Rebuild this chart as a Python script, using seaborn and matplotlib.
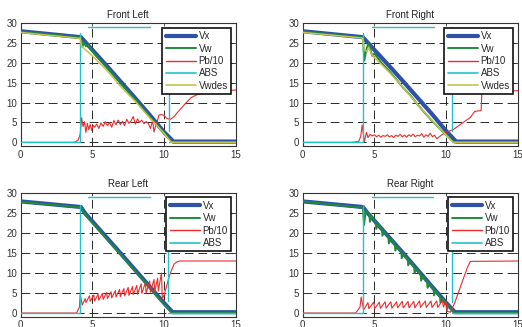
import numpy as np
import pandas as pd
import matplotlib
matplotlib.use("Agg")
import matplotlib.pyplot as plt
import seaborn as sns
from matplotlib.lines import Line2D

nan = np.nan

titles = ["Front Left", "Front Right", "Rear Left", "Rear Right"]
x_ticks = [0, 5, 10, 15]
y_ticks = [0, 5, 10, 15, 20, 25, 30]

# ---------------- Front Left ----------------
fl_vx_t = [0, 4.2, 5, 6, 7, 8, 9, 10, 10.65, 15]
fl_vx_v = [28, 26.5, 23.3, 19.3, 15.2, 11.1, 6.9, 2.6, 0.2, 0.2]
fl_vw_t = [0, 4.2, 4.3, 4.4, 4.55, 4.7, 5, 6, 7, 8, 9, 10, 10.6, 15]
fl_vw_v = [27.9, 26.4, 24.0, 25.2, 24.2, 24.6, 22.9, 18.9, 14.8, 10.7, 6.5, 2.3, 0, 0]
fl_pb_t = [0, 3.7, 4.0, 4.15, 4.25, 4.35, 4.45, 4.55, 4.65, 4.75, 4.85, 4.95, 5.05, 5.15,
           5.3, 5.45, 5.6, 5.75, 5.9, 6.05, 6.2, 6.35, 6.5, 6.65, 6.8, 6.95, 7.1, 7.25, 7.4,
           7.55, 7.7, 7.85, 8.0, 8.15, 8.3, 8.45, 8.6, 8.75, 8.9, 9.05, 9.2, 9.3, 9.4, 9.5,
           9.65, 9.8, 10.0, 10.2, 10.45, 10.7, 11.0, 11.3, 11.6, 11.9, 12.3, 12.8, 13.5, 14.2, 15]
fl_pb_v = [0, 0, 0.5, 2, 6.2, 4.0, 5.2, 2.5, 4.8, 3.2, 4.5, 3.0, 4.3, 3.8,
           4.6, 3.5, 4.9, 4.0, 5.2, 4.2, 5.0, 3.8, 5.5, 4.4, 5.6, 4.5, 5.3, 4.2, 5.8,
           4.8, 5.4, 6.5, 4.6, 5.9, 5.0, 5.6, 4.7, 5.2, 4.8, 3.5, 5.5, 2.6, 4.0, 5.0,
           6.9, 7.0, 6.8, 6.0, 5.8, 6.5, 7.8, 9.0, 10.2, 11.3, 12.0, 12.3, 12.5, 13.0, 13.2]
fl_abs_t = [0, 4.15, 4.15, nan, 4.7, 9.0, nan, 10.35, 10.35, nan, 10.35, 15]
fl_abs_v = [0, 0, 27.5, nan, 29, 29, nan, 29, 2.8, nan, 0, 0]
fl_des_t = [0, 4.15, 4.25, 5, 6, 7, 8, 9, 10, 10.5, 15]
fl_des_v = [27.7, 26.2, 24.2, 21.8, 18.2, 14.0, 10.3, 6.2, 2.3, 0, 0]

# ---------------- Front Right ----------------
fr_vx_t = [0, 4.2, 5, 6, 7, 8, 9, 10, 10.7, 15]
fr_vx_v = [28, 26.5, 23.3, 19.4, 15.4, 11.3, 7.2, 2.9, 0.2, 0.2]
fr_vw_t = [0, 4.2, 4.3, 4.45, 4.6, 4.75, 4.85, 5.0, 5.5, 6, 6.5, 7, 7.5, 8, 8.5, 9, 9.5, 10, 10.55, 15]
fr_vw_v = [27.9, 26.4, 20.6, 23.5, 25.0, 23.0, 21.8, 22.4, 20.0, 18.1, 16.0, 13.8, 11.9, 9.6, 7.5, 5.5, 3.7, 1.9, 0, 0]
fr_pb_t = [0, 3.4, 3.9, 4.05, 4.15, 4.3, 4.45, 4.55, 4.7, 4.85, 5.0, 5.15, 5.3, 5.45, 5.6, 5.75,
           5.9, 6.05, 6.2, 6.35, 6.5, 6.65, 6.8, 6.95, 7.1, 7.25, 7.4, 7.55, 7.7, 7.85, 8.0, 8.15,
           8.3, 8.45, 8.6, 8.75, 8.9, 9.05, 9.2, 9.35, 9.5, 9.7, 10.0, 10.5, 11.0, 11.7, 12.0,
           12.45, 12.5, 15]
fr_pb_v = [0, 0, 0.2, 1.5, 4.4, 0.2, 2.5, 1.2, 2.0, 1.6, 1.9, 1.4, 1.8, 1.3, 1.7, 1.5,
           1.9, 1.4, 1.7, 1.2, 1.8, 1.5, 2.0, 1.4, 1.8, 1.3, 1.9, 1.5, 2.1, 1.4, 1.8, 1.6,
           2.2, 1.3, 1.9, 1.5, 2.3, 1.4, 1.8, 0.9, 1.3, 1.9, 2.5, 3.2, 4.5, 6.3, 7.8,
           8.0, 12.9, 13.0]
fr_abs_t = [0, 4.2, 4.2, nan, 4.82, 9.15, nan, 10.4, 10.4, nan, 10.4, 15]
fr_abs_v = [0, 0, 27.5, nan, 29, 29, nan, 29, 2.8, nan, 0, 0]
fr_des_t = [0, 4.15, 4.3, 4.5, 4.6, 4.8, 5, 6, 7, 8, 9, 10, 10.5, 15]
fr_des_v = [27.7, 26.3, 23.5, 22.8, 24.0, 22.2, 21.4, 17.8, 13.9, 9.6, 5.6, 1.9, 0, 0]

# ---------------- Rear Left ----------------
rl_vx_t = [0, 4.2, 4.5, 5, 7, 9, 10, 10.6, 15]
rl_vx_v = [27.9, 26.5, 24.9, 22.9, 14.8, 6.6, 2.5, 0.2, 0.2]
rl_vw_t = [0, 4.2, 4.5, 5, 7, 9, 10, 10.55, 15]
rl_vw_v = [27.8, 26.4, 24.6, 22.6, 14.5, 6.3, 2.2, 0, 0]
rl_pb_t = [0, 3.9, 4.1, 4.15, 4.3, 4.5, 4.55, 4.8, 4.85, 5.1, 5.15, 5.4, 5.45, 5.7, 5.75,
           6.0, 6.05, 6.3, 6.35, 6.6, 6.65, 6.9, 6.95, 7.2, 7.25, 7.5, 7.55, 7.8, 7.85,
           8.1, 8.15, 8.4, 8.45, 8.7, 8.75, 9.0, 9.05, 9.3, 9.35, 9.55, 9.6, 9.82, 9.88,
           10.05, 10.2, 10.35, 10.5, 10.7, 10.9, 11.1, 15]
rl_pb_v = [0, 0, 1.5, 4.6, 2.0, 3.6, 2.6, 4.3, 2.9, 4.5, 3.0, 4.7, 3.2, 4.9, 3.4,
           5.1, 3.6, 5.3, 3.8, 5.6, 4.0, 5.9, 4.1, 6.1, 4.3, 6.4, 4.4, 6.6, 4.6,
           6.9, 4.7, 7.3, 4.9, 7.6, 5.0, 8.0, 5.2, 8.4, 5.3, 8.7, 5.5, 10.0, 3.5,
           5.0, 7.0, 9.0, 10.5, 12.2, 12.8, 13.0, 13.0]
rl_abs_t = [0, 4.15, 4.15, nan, 4.7, 9.0, nan, 10.3, 10.3, nan, 10.3, 15]
rl_abs_v = [0, 0, 27, nan, 29, 29, nan, 29, 2.9, nan, 0, 0]

# ---------------- Rear Right ----------------
rr_vx_t = [0, 4.2, 4.5, 5, 7, 9, 10, 10.62, 15]
rr_vx_v = [27.9, 26.5, 25.1, 23.1, 15.0, 6.7, 2.6, 0.2, 0.2]
rr_vw_t = [0, 4.2, 4.28, 4.4, 4.66, 4.69, 4.8, 5.1, 5.13, 5.25, 5.53, 5.56, 5.68, 5.98, 6.01,
           6.13, 6.43, 6.46, 6.58, 6.88, 6.91, 7.03, 7.33, 7.36, 7.48, 7.78, 7.81, 7.93, 8.23,
           8.26, 8.38, 8.68, 8.71, 8.83, 9.13, 9.16, 9.28, 9.58, 9.61, 9.73, 10.03, 10.06,
           10.18, 10.6, 15]
rr_vw_v = [27.9, 26.3, 22.0, 25.6, 24.5, 22.8, 24.2, 22.7, 21.0, 22.2, 20.9, 19.3, 20.4, 19.0, 17.4,
           18.5, 17.2, 15.6, 16.7, 15.3, 13.7, 14.8, 13.5, 11.9, 13.0, 11.6, 10.0, 11.1, 9.7,
           8.1, 9.2, 7.9, 6.3, 7.4, 6.0, 4.4, 5.5, 4.1, 2.6, 3.6, 2.3, 1.0,
           1.8, 0.0, 0.0]
rr_pb_t = [0, 3.7, 4.0, 4.08, 4.25, 4.55, 4.62, 4.95, 5.02, 5.35, 5.42, 5.75, 5.82, 6.15, 6.22,
           6.55, 6.62, 6.95, 7.02, 7.35, 7.42, 7.75, 7.82, 8.15, 8.22, 8.55, 8.62, 8.95, 9.02,
           9.35, 9.42, 9.75, 9.82, 10.0, 10.08, 10.3, 10.6, 10.9, 11.2, 11.5, 11.7, 15]
rr_pb_v = [0, 0, 1.5, 4.0, 0.8, 2.6, 1.1, 2.7, 1.1, 2.7, 1.2, 2.8, 1.2, 2.8, 1.2,
           2.8, 1.3, 2.9, 1.3, 2.9, 1.3, 2.9, 1.3, 3.0, 1.4, 3.0, 1.4, 3.0, 1.4,
           3.0, 1.4, 3.1, 1.5, 3.0, 0.4, 0.2, 2.5, 5.5, 8.5, 11.5, 12.9, 13.0]
rr_abs_t = [0, 4.2, 4.2, nan, 4.8, 9.1, nan, 10.4, 10.4, nan, 10.4, 15]
rr_abs_v = [0, 0, 27, nan, 29, 29, nan, 29, 2.8, nan, 0, 0]

panels = [
    dict(vx=(fl_vx_t, fl_vx_v), vw=(fl_vw_t, fl_vw_v), pb=(fl_pb_t, fl_pb_v),
         abs_=(fl_abs_t, fl_abs_v), des=(fl_des_t, fl_des_v)),
    dict(vx=(fr_vx_t, fr_vx_v), vw=(fr_vw_t, fr_vw_v), pb=(fr_pb_t, fr_pb_v),
         abs_=(fr_abs_t, fr_abs_v), des=(fr_des_t, fr_des_v)),
    dict(vx=(rl_vx_t, rl_vx_v), vw=(rl_vw_t, rl_vw_v), pb=(rl_pb_t, rl_pb_v),
         abs_=(rl_abs_t, rl_abs_v), des=None),
    dict(vx=(rr_vx_t, rr_vx_v), vw=(rr_vw_t, rr_vw_v), pb=(rr_pb_t, rr_pb_v),
         abs_=(rr_abs_t, rr_abs_v), des=None),
]

C_VX = "#2f52a8"
C_VW = "#1e8a3c"
C_PB = "#ee2a2a"
C_ABS = "#20c4c8"
C_DES = "#c4c44c"

sns.set_theme(style="white")
plt.rcParams["font.family"] = ["Liberation Sans", "DejaVu Sans"]

W, H = 522, 327
fig = plt.figure(figsize=(W / 100, H / 100), dpi=100)

# axes boxes in pixels: (left, top, right, bottom)
boxes = [(20.7, 23.3, 235.7, 146.3), (302.7, 23.3, 517.7, 146.3),
         (20.7, 193.0, 235.7, 317.0), (302.7, 193.0, 517.7, 317.0)]


def draw(ax, t, v, color, lw, z):
    df = pd.DataFrame({"t": t, "v": v})
    sns.lineplot(data=df, x="t", y="v", ax=ax, color=color, linewidth=lw,
                 sort=False, estimator=None, legend=False, zorder=z)


def draw_segments(ax, t, v, color, lw, z):
    seg_t, seg_v = [], []
    for a, b in list(zip(t, v)) + [(nan, nan)]:
        if np.isnan(a):
            if seg_t:
                draw(ax, seg_t, seg_v, color, lw, z)
            seg_t, seg_v = [], []
        else:
            seg_t.append(a)
            seg_v.append(b)


for i, (p, box, title) in enumerate(zip(panels, boxes, titles)):
    l, tp, r, b = box
    ax = fig.add_axes([l / W, 1 - b / H, (r - l) / W, (b - tp) / H])
    draw(ax, *p["vx"], C_VX, 3.0, 3)
    draw(ax, *p["vw"], C_VW, 1.4, 4)
    draw(ax, *p["pb"], C_PB, 0.8, 5)
    draw_segments(ax, *p["abs_"], C_ABS, 1.0, 6)
    if p["des"] is not None:
        draw(ax, *p["des"], C_DES, 1.1, 7)

    ax.set_xlim(0, 15)
    ax.set_ylim(-1, 30)
    ax.set_xticks(x_ticks)
    ax.set_yticks(y_ticks)
    ax.set_xticklabels([str(x) for x in x_ticks])
    ax.set_yticklabels([str(y) for y in y_ticks])
    ax.set_xlabel("")
    ax.set_ylabel("")
    ax.grid(True, linestyle=(0, (9, 5)), linewidth=0.7, color="#2a2a2a")
    ax.set_axisbelow(True)
    ax.tick_params(direction="in", length=2.5, width=0.6, top=True, right=True,
                   labelsize=7, colors="#333333", pad=2.5)
    for s in ax.spines.values():
        s.set_visible(True)
        s.set_color("#333333")
        s.set_linewidth(0.8)
    ax.set_title(title, fontsize=7, color="#222222", pad=4)

    handles = [Line2D([], [], color=C_VX, lw=3.0),
               Line2D([], [], color=C_VW, lw=1.4),
               Line2D([], [], color=C_PB, lw=1.0),
               Line2D([], [], color=C_ABS, lw=1.2)]
    labels = ["Vx", "Vw", "Pb/10", "ABS"]
    if p["des"] is not None:
        handles.append(Line2D([], [], color=C_DES, lw=1.2))
        labels.append("Vwdes")
    leg = ax.legend(handles, labels, loc="upper right", fontsize=7, frameon=True,
                    fancybox=False, framealpha=1, edgecolor="#111111",
                    borderaxespad=0.45, handlelength=3.1, handletextpad=0.3,
                    labelspacing=0.25, borderpad=0.35)
    leg.get_frame().set_linewidth(1.2)
    leg.set_zorder(20)

fig.savefig("out.png", dpi=100)
